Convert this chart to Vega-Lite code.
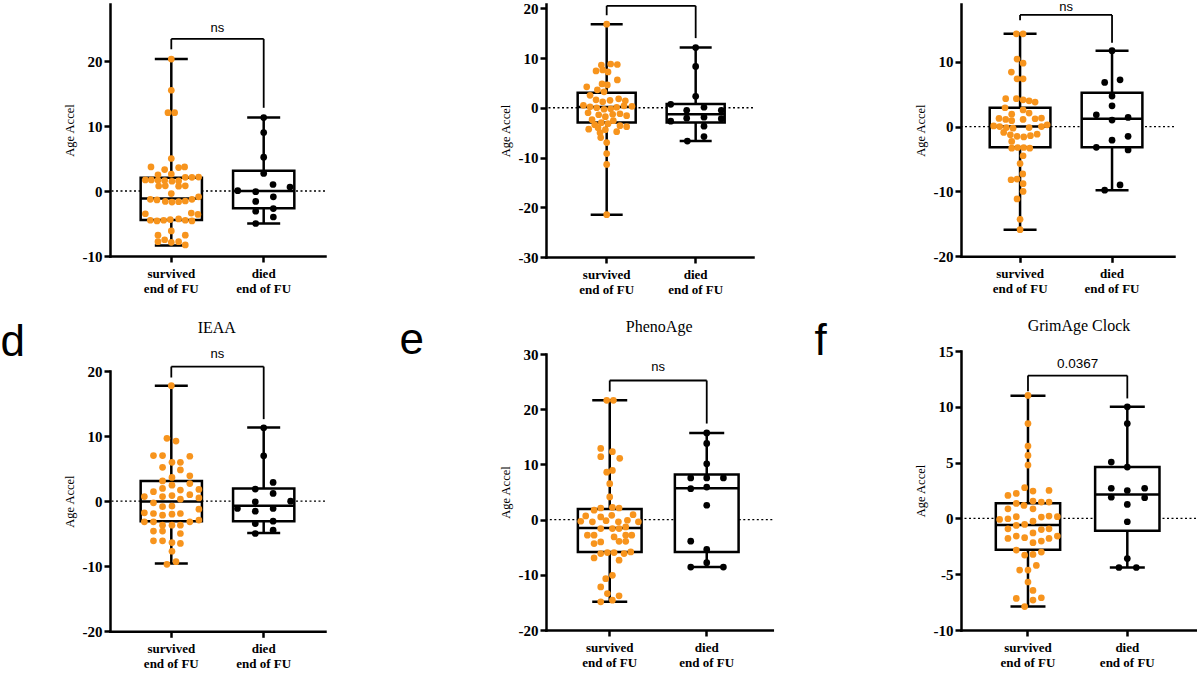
{
"$schema": "https://vega.github.io/schema/vega-lite/v6.json",
"padding": 0,
"background": "white",
"spacing": 0,
"datasets": {
"box": [
{"p":"a","g":"survived","mn":-8.4,"q1":-4.45,"md":-1.15,"q3":2.05,"mx":20.3},
{"p":"a","g":"died","mn":-5.0,"q1":-2.65,"md":0.0,"q3":3.1,"mx":11.3},
{"p":"b","g":"survived","mn":-21.5,"q1":-2.95,"md":0.15,"q3":3.0,"mx":16.8},
{"p":"b","g":"died","mn":-6.7,"q1":-2.95,"md":-1.3,"q3":0.75,"mx":12.1},
{"p":"c","g":"survived","mn":-15.9,"q1":-3.2,"md":0.0,"q3":2.9,"mx":14.3},
{"p":"c","g":"died","mn":-9.8,"q1":-3.2,"md":1.2,"q3":5.2,"mx":11.7},
{"p":"d","g":"survived","mn":-9.6,"q1":-3.1,"md":-0.05,"q3":3.1,"mx":17.75},
{"p":"d","g":"died","mn":-4.9,"q1":-3.1,"md":-0.7,"q3":1.95,"mx":11.3},
{"p":"e","g":"survived","mn":-14.9,"q1":-5.85,"md":-1.5,"q3":1.9,"mx":21.6},
{"p":"e","g":"died","mn":-8.6,"q1":-5.85,"md":5.7,"q3":8.15,"mx":15.7},
{"p":"f","g":"survived","mn":-7.9,"q1":-2.8,"md":-0.6,"q3":1.35,"mx":11.0},
{"p":"f","g":"died","mn":-4.4,"q1":-1.1,"md":2.15,"q3":4.6,"mx":10.0}
],
"legs": [
{"p":"a","g":"survived","lo":21.8,"hi":23.4},{"p":"a","g":"died","lo":12.8,"hi":23.4},
{"p":"b","g":"survived","lo":18.6,"hi":20.5},{"p":"b","g":"died","lo":14.0,"hi":20.5},
{"p":"c","g":"survived","lo":16.4,"hi":17.2},{"p":"c","g":"died","lo":12.9,"hi":17.2},
{"p":"d","g":"survived","lo":19.0,"hi":20.68},{"p":"d","g":"died","lo":12.6,"hi":20.68},
{"p":"e","g":"survived","lo":23.2,"hi":25.2},{"p":"e","g":"died","lo":17.4,"hi":25.2},
{"p":"f","g":"survived","lo":11.4,"hi":12.8},{"p":"f","g":"died","lo":10.75,"hi":12.8}
],
"brk": [
{"p":"a","g":"survived","g2":"died","hi":23.4},
{"p":"b","g":"survived","g2":"died","hi":20.5},
{"p":"c","g":"survived","g2":"died","hi":17.2},
{"p":"d","g":"survived","g2":"died","hi":20.68},
{"p":"e","g":"survived","g2":"died","hi":25.2},
{"p":"f","g":"survived","g2":"died","hi":12.8}
],
"lab": [
{"p":"a","g":"survived","t":"ns","ly":24.5},
{"p":"c","g":"survived","t":"ns","ly":17.81},
{"p":"d","g":"survived","t":"ns","ly":21.95},
{"p":"e","g":"survived","t":"ns","ly":26.9},
{"p":"f","g":"survived","t":"0.0367","ly":13.5}
],
"pts": [
{"p":"a","g":"survived","v":20.3,"o":0},{"p":"a","g":"survived","v":15.5,"o":0},{"p":"a","g":"survived","v":12.05,"o":-0.5},{"p":"a","g":"survived","v":12.05,"o":0.5},{"p":"a","g":"survived","v":5.0,"o":0},
{"p":"a","g":"survived","v":3.7,"o":-3.05},{"p":"a","g":"survived","v":3.3,"o":-1.0},{"p":"a","g":"survived","v":3.6,"o":1.1},{"p":"a","g":"survived","v":3.7,"o":2.0},
{"p":"a","g":"survived","v":2.5,"o":-2.0},{"p":"a","g":"survived","v":2.6,"o":0},{"p":"a","g":"survived","v":2.1,"o":2.1},{"p":"a","g":"survived","v":2.1,"o":3.1},{"p":"a","g":"survived","v":2.15,"o":4.1},
{"p":"a","g":"survived","v":1.7,"o":-3.9},{"p":"a","g":"survived","v":1.7,"o":-3.0},{"p":"a","g":"survived","v":1.65,"o":-2.0},{"p":"a","g":"survived","v":1.6,"o":-1.0},{"p":"a","g":"survived","v":1.5,"o":0.1},{"p":"a","g":"survived","v":1.55,"o":1.1},
{"p":"a","g":"survived","v":0.77,"o":-1.9},{"p":"a","g":"survived","v":0.8,"o":-0.9},{"p":"a","g":"survived","v":0.75,"o":1.1},{"p":"a","g":"survived","v":0.8,"o":2.1},
{"p":"a","g":"survived","v":-0.4,"o":0},
{"p":"a","g":"survived","v":-1.28,"o":-3.15},{"p":"a","g":"survived","v":-1.38,"o":-2.15},{"p":"a","g":"survived","v":-1.6,"o":-0.9},{"p":"a","g":"survived","v":-1.7,"o":0.1},{"p":"a","g":"survived","v":-1.64,"o":1.1},{"p":"a","g":"survived","v":-1.54,"o":2.1},{"p":"a","g":"survived","v":-1.28,"o":3.1},{"p":"a","g":"survived","v":-0.9,"o":4.1},
{"p":"a","g":"survived","v":-3.5,"o":-3.9},{"p":"a","g":"survived","v":-3.4,"o":3.0},{"p":"a","g":"survived","v":-3.6,"o":4.0},
{"p":"a","g":"survived","v":-4.5,"o":-3.15},{"p":"a","g":"survived","v":-4.6,"o":-2.15},{"p":"a","g":"survived","v":-4.5,"o":-1.15},{"p":"a","g":"survived","v":-4.4,"o":-0.15},{"p":"a","g":"survived","v":-4.3,"o":1.1},{"p":"a","g":"survived","v":-4.5,"o":2.1},{"p":"a","g":"survived","v":-4.6,"o":3.1},
{"p":"a","g":"survived","v":-6.15,"o":0},{"p":"a","g":"survived","v":-6.8,"o":-2.0},{"p":"a","g":"survived","v":-6.8,"o":2.1},
{"p":"a","g":"survived","v":-7.8,"o":-2.0},{"p":"a","g":"survived","v":-7.5,"o":-1.0},{"p":"a","g":"survived","v":-7.9,"o":0},{"p":"a","g":"survived","v":-7.8,"o":1.1},{"p":"a","g":"survived","v":-8.3,"o":2.1},
{"p":"a","g":"died","v":11.3,"o":0},{"p":"a","g":"died","v":9.0,"o":0},{"p":"a","g":"died","v":5.2,"o":0},{"p":"a","g":"died","v":2.7,"o":0},{"p":"a","g":"died","v":1.0,"o":1.4},{"p":"a","g":"died","v":0.6,"o":3.95},{"p":"a","g":"died","v":0.05,"o":-3.9},{"p":"a","g":"died","v":-0.1,"o":-1.2},{"p":"a","g":"died","v":-0.9,"o":1.45},{"p":"a","g":"died","v":-1.6,"o":-1.2},{"p":"a","g":"died","v":-2.7,"o":1.45},{"p":"a","g":"died","v":-3.1,"o":-1.2},{"p":"a","g":"died","v":-4.0,"o":1.45},{"p":"a","g":"died","v":-5.0,"o":-1.2},

{"p":"b","g":"survived","v":16.8,"o":0},{"p":"b","g":"survived","v":8.6,"o":-0.8},{"p":"b","g":"survived","v":8.8,"o":0.6},{"p":"b","g":"survived","v":8.7,"o":1.6},{"p":"b","g":"survived","v":7.4,"o":-1.6},{"p":"b","g":"survived","v":7.6,"o":-0.6},{"p":"b","g":"survived","v":7.2,"o":0.2},{"p":"b","g":"survived","v":5.6,"o":1.6},{"p":"b","g":"survived","v":4.8,"o":-0.7},{"p":"b","g":"survived","v":4.6,"o":0.1},{"p":"b","g":"survived","v":4.2,"o":-3.0},{"p":"b","g":"survived","v":3.6,"o":-1.4},{"p":"b","g":"survived","v":3.2,"o":-0.4},
{"p":"b","g":"survived","v":2.5,"o":-2.5},{"p":"b","g":"survived","v":1.8,"o":1.8},{"p":"b","g":"survived","v":1.6,"o":-1.6},{"p":"b","g":"survived","v":1.5,"o":0.5},{"p":"b","g":"survived","v":1.4,"o":2.8},{"p":"b","g":"survived","v":1.2,"o":-0.6},
{"p":"b","g":"survived","v":0.5,"o":-3.5},{"p":"b","g":"survived","v":0.3,"o":3.8},{"p":"b","g":"survived","v":0.2,"o":-2.5},{"p":"b","g":"survived","v":0.1,"o":1.5},{"p":"b","g":"survived","v":0.0,"o":-1.5},{"p":"b","g":"survived","v":-0.2,"o":0.6},{"p":"b","g":"survived","v":0.4,"o":2.6},{"p":"b","g":"survived","v":-0.3,"o":-0.4},
{"p":"b","g":"survived","v":-1.0,"o":-2.8},{"p":"b","g":"survived","v":-1.2,"o":2.0},{"p":"b","g":"survived","v":-1.4,"o":-1.2},{"p":"b","g":"survived","v":-1.3,"o":0.9},{"p":"b","g":"survived","v":-1.6,"o":3.0},{"p":"b","g":"survived","v":-1.8,"o":-0.2},
{"p":"b","g":"survived","v":-2.4,"o":-2.2},{"p":"b","g":"survived","v":-2.6,"o":1.0},{"p":"b","g":"survived","v":-3.0,"o":-0.8},{"p":"b","g":"survived","v":-3.2,"o":0.2},{"p":"b","g":"survived","v":-3.4,"o":-1.8},{"p":"b","g":"survived","v":-3.6,"o":2.0},
{"p":"b","g":"survived","v":-4.0,"o":-1.3},{"p":"b","g":"survived","v":-4.3,"o":-2.7},{"p":"b","g":"survived","v":-4.4,"o":-0.2},{"p":"b","g":"survived","v":-4.8,"o":1.5},{"p":"b","g":"survived","v":-5.0,"o":-1.0},{"p":"b","g":"survived","v":-3.8,"o":3.0},
{"p":"b","g":"survived","v":-6.0,"o":-0.9},{"p":"b","g":"survived","v":-7.0,"o":0},{"p":"b","g":"survived","v":-9.2,"o":0},{"p":"b","g":"survived","v":-11.4,"o":0},{"p":"b","g":"survived","v":-21.5,"o":0},
{"p":"b","g":"died","v":12.1,"o":0},{"p":"b","g":"died","v":8.3,"o":0},{"p":"b","g":"died","v":2.3,"o":0},{"p":"b","g":"died","v":0.7,"o":-3.75},{"p":"b","g":"died","v":-2.7,"o":-3.75},{"p":"b","g":"died","v":-0.5,"o":-1.35},{"p":"b","g":"died","v":-2.1,"o":-1.35},{"p":"b","g":"died","v":0.1,"o":1.25},{"p":"b","g":"died","v":-1.9,"o":1.25},{"p":"b","g":"died","v":-0.5,"o":3.85},{"p":"b","g":"died","v":-2.2,"o":3.85},{"p":"b","g":"died","v":-3.7,"o":1.25},{"p":"b","g":"died","v":-5.8,"o":1.25},{"p":"b","g":"died","v":-6.7,"o":-1.25},

{"p":"c","g":"survived","v":14.3,"o":-0.55},{"p":"c","g":"survived","v":14.3,"o":0.45},{"p":"c","g":"survived","v":10.4,"o":-0.45},{"p":"c","g":"survived","v":9.77,"o":0.45},{"p":"c","g":"survived","v":8.4,"o":-1.3},{"p":"c","g":"survived","v":7.35,"o":-0.45},{"p":"c","g":"survived","v":7.35,"o":0.45},
{"p":"c","g":"survived","v":4.3,"o":-2.15},{"p":"c","g":"survived","v":4.3,"o":-0.55},{"p":"c","g":"survived","v":4.12,"o":0.45},{"p":"c","g":"survived","v":3.97,"o":1.35},{"p":"c","g":"survived","v":3.77,"o":2.25},
{"p":"c","g":"survived","v":2.9,"o":-2.25},{"p":"c","g":"survived","v":2.57,"o":0.45},{"p":"c","g":"survived","v":1.9,"o":-1.25},{"p":"c","g":"survived","v":2.07,"o":1.35},
{"p":"c","g":"survived","v":1.25,"o":-3.15},{"p":"c","g":"survived","v":1.1,"o":-2.15},{"p":"c","g":"survived","v":0.9,"o":-1.25},{"p":"c","g":"survived","v":1.1,"o":0.45},{"p":"c","g":"survived","v":1.2,"o":2.25},{"p":"c","g":"survived","v":1.3,"o":3.2},
{"p":"c","g":"survived","v":0.1,"o":-3.95},{"p":"c","g":"survived","v":0.0,"o":-3.05},{"p":"c","g":"survived","v":-0.15,"o":-2.05},{"p":"c","g":"survived","v":-0.25,"o":-1.05},{"p":"c","g":"survived","v":-0.15,"o":1.35},{"p":"c","g":"survived","v":0.0,"o":3.2},{"p":"c","g":"survived","v":0.26,"o":4.05},
{"p":"c","g":"survived","v":-0.9,"o":-2.45},{"p":"c","g":"survived","v":-1.27,"o":-1.45},{"p":"c","g":"survived","v":-1.5,"o":-0.45},{"p":"c","g":"survived","v":-1.6,"o":0.55},{"p":"c","g":"survived","v":-1.4,"o":1.55},{"p":"c","g":"survived","v":-1.17,"o":2.55},
{"p":"c","g":"survived","v":-2.3,"o":-1.25},
{"p":"c","g":"survived","v":-3.34,"o":-1.25},{"p":"c","g":"survived","v":-3.23,"o":-0.35},{"p":"c","g":"survived","v":-3.23,"o":0.55},{"p":"c","g":"survived","v":-3.34,"o":1.45},
{"p":"c","g":"survived","v":-4.5,"o":0.45},{"p":"c","g":"survived","v":-5.7,"o":0},
{"p":"c","g":"survived","v":-8.2,"o":-1.35},{"p":"c","g":"survived","v":-8.1,"o":-0.45},{"p":"c","g":"survived","v":-7.3,"o":0.4},{"p":"c","g":"survived","v":-8.8,"o":0.45},
{"p":"c","g":"survived","v":-10.0,"o":0.45},{"p":"c","g":"survived","v":-11.15,"o":-0.45},{"p":"c","g":"survived","v":-14.3,"o":0},{"p":"c","g":"survived","v":-15.9,"o":0},
{"p":"c","g":"died","v":11.7,"o":0},{"p":"c","g":"died","v":6.8,"o":-1.1},{"p":"c","g":"died","v":7.2,"o":1.2},{"p":"c","g":"died","v":4.7,"o":0},{"p":"c","g":"died","v":3.2,"o":0},{"p":"c","g":"died","v":1.8,"o":-2.35},{"p":"c","g":"died","v":1.4,"o":2.4},{"p":"c","g":"died","v":1.0,"o":0},{"p":"c","g":"died","v":-1.5,"o":2.4},{"p":"c","g":"died","v":-2.1,"o":0},{"p":"c","g":"died","v":-3.2,"o":-2.35},{"p":"c","g":"died","v":-3.6,"o":2.4},{"p":"c","g":"died","v":-9.0,"o":1.2},{"p":"c","g":"died","v":-9.8,"o":-1.1},

{"p":"d","g":"survived","v":17.75,"o":0},{"p":"d","g":"survived","v":9.65,"o":-0.65},{"p":"d","g":"survived","v":9.23,"o":0.7},{"p":"d","g":"survived","v":7.0,"o":-2.65},{"p":"d","g":"survived","v":7.0,"o":-1.3},{"p":"d","g":"survived","v":6.9,"o":2.75},{"p":"d","g":"survived","v":5.96,"o":0.1},{"p":"d","g":"survived","v":5.96,"o":1.35},{"p":"d","g":"survived","v":5.2,"o":-1.3},{"p":"d","g":"survived","v":4.8,"o":1.35},{"p":"d","g":"survived","v":3.9,"o":2.75},{"p":"d","g":"survived","v":3.65,"o":0.1},{"p":"d","g":"survived","v":3.1,"o":-1.3},{"p":"d","g":"survived","v":2.7,"o":2.75},
{"p":"d","g":"survived","v":1.45,"o":-2.65},{"p":"d","g":"survived","v":1.95,"o":-1.3},{"p":"d","g":"survived","v":2.45,"o":0.1},{"p":"d","g":"survived","v":1.7,"o":1.35},{"p":"d","g":"survived","v":1.0,"o":2.75},{"p":"d","g":"survived","v":1.8,"o":4.1},
{"p":"d","g":"survived","v":0.7,"o":-4.0},{"p":"d","g":"survived","v":0.7,"o":-1.3},{"p":"d","g":"survived","v":0.85,"o":0.1},{"p":"d","g":"survived","v":0.3,"o":1.35},{"p":"d","g":"survived","v":0.5,"o":4.1},
{"p":"d","g":"survived","v":-0.25,"o":-2.65},{"p":"d","g":"survived","v":-0.85,"o":-1.3},{"p":"d","g":"survived","v":-0.75,"o":0.1},{"p":"d","g":"survived","v":-1.23,"o":4.1},
{"p":"d","g":"survived","v":-1.8,"o":-4.0},{"p":"d","g":"survived","v":-1.9,"o":-2.65},{"p":"d","g":"survived","v":-2.15,"o":-1.3},{"p":"d","g":"survived","v":-2.0,"o":0.1},{"p":"d","g":"survived","v":-1.9,"o":1.35},
{"p":"d","g":"survived","v":-3.17,"o":-4.0},{"p":"d","g":"survived","v":-3.17,"o":-2.65},{"p":"d","g":"survived","v":-3.17,"o":2.75},{"p":"d","g":"survived","v":-2.9,"o":4.1},
{"p":"d","g":"survived","v":-3.69,"o":-1.3},{"p":"d","g":"survived","v":-3.69,"o":0.1},{"p":"d","g":"survived","v":-3.69,"o":1.35},
{"p":"d","g":"survived","v":-4.6,"o":-2.65},{"p":"d","g":"survived","v":-4.6,"o":-1.3},{"p":"d","g":"survived","v":-4.97,"o":1.35},
{"p":"d","g":"survived","v":-6.1,"o":-2.65},{"p":"d","g":"survived","v":-6.1,"o":-1.3},{"p":"d","g":"survived","v":-6.36,"o":0.1},{"p":"d","g":"survived","v":-6.5,"o":1.35},
{"p":"d","g":"survived","v":-7.7,"o":0.1},{"p":"d","g":"survived","v":-9.7,"o":-0.65},{"p":"d","g":"survived","v":-9.3,"o":0.7},
{"p":"d","g":"died","v":11.28,"o":0},{"p":"d","g":"died","v":6.97,"o":0},{"p":"d","g":"died","v":2.87,"o":1.4},{"p":"d","g":"died","v":1.85,"o":-1.25},{"p":"d","g":"died","v":1.18,"o":1.4},{"p":"d","g":"died","v":0.0,"o":4.0},{"p":"d","g":"died","v":-0.1,"o":-1.25},{"p":"d","g":"died","v":-1.13,"o":-3.9},{"p":"d","g":"died","v":-1.54,"o":-1.25},{"p":"d","g":"died","v":-1.13,"o":1.4},{"p":"d","g":"died","v":-3.44,"o":-1.25},{"p":"d","g":"died","v":-3.08,"o":1.4},{"p":"d","g":"died","v":-4.46,"o":1.4},{"p":"d","g":"died","v":-4.97,"o":-1.25},

{"p":"e","g":"survived","v":21.6,"o":-0.45},{"p":"e","g":"survived","v":21.6,"o":0.55},{"p":"e","g":"survived","v":12.9,"o":-1.35},{"p":"e","g":"survived","v":12.3,"o":0.4},{"p":"e","g":"survived","v":11.4,"o":-1.35},{"p":"e","g":"survived","v":11.1,"o":1.5},{"p":"e","g":"survived","v":8.6,"o":-0.45},{"p":"e","g":"survived","v":8.9,"o":0.4},{"p":"e","g":"survived","v":6.5,"o":0},{"p":"e","g":"survived","v":4.1,"o":0},
{"p":"e","g":"survived","v":1.7,"o":-2.35},{"p":"e","g":"survived","v":2.1,"o":-1.35},{"p":"e","g":"survived","v":2.2,"o":0.4},{"p":"e","g":"survived","v":2.1,"o":1.4},
{"p":"e","g":"survived","v":0.66,"o":-3.6},{"p":"e","g":"survived","v":0.48,"o":-1.35},{"p":"e","g":"survived","v":0.78,"o":0.3},{"p":"e","g":"survived","v":0.9,"o":3.5},{"p":"e","g":"survived","v":-0.3,"o":-4.35},{"p":"e","g":"survived","v":-0.4,"o":-2.6},{"p":"e","g":"survived","v":-0.2,"o":-0.55},{"p":"e","g":"survived","v":-0.4,"o":1.3},{"p":"e","g":"survived","v":-0.12,"o":2.65},{"p":"e","g":"survived","v":-0.4,"o":4.3},
{"p":"e","g":"survived","v":-1.63,"o":-1.35},{"p":"e","g":"survived","v":-1.63,"o":0.4},{"p":"e","g":"survived","v":-1.63,"o":1.4},{"p":"e","g":"survived","v":-1.33,"o":2.4},
{"p":"e","g":"survived","v":-2.83,"o":-3.35},{"p":"e","g":"survived","v":-2.83,"o":-2.35},{"p":"e","g":"survived","v":-3.13,"o":0.65},{"p":"e","g":"survived","v":-2.83,"o":2.4},{"p":"e","g":"survived","v":-2.83,"o":3.3},
{"p":"e","g":"survived","v":-4.35,"o":-2.35},{"p":"e","g":"survived","v":-4.05,"o":-1.35},{"p":"e","g":"survived","v":-3.93,"o":1.4},{"p":"e","g":"survived","v":-3.93,"o":2.4},
{"p":"e","g":"survived","v":-6.94,"o":-2.35},{"p":"e","g":"survived","v":-6.15,"o":-1.35},{"p":"e","g":"survived","v":-5.97,"o":-0.35},{"p":"e","g":"survived","v":-5.97,"o":0.65},{"p":"e","g":"survived","v":-6.15,"o":2.15},{"p":"e","g":"survived","v":-5.85,"o":3.15},{"p":"e","g":"survived","v":-7.36,"o":1.4},
{"p":"e","g":"survived","v":-10.7,"o":-0.6},{"p":"e","g":"survived","v":-10.1,"o":0.4},{"p":"e","g":"survived","v":-12.2,"o":-1.35},{"p":"e","g":"survived","v":-13.4,"o":-0.35},{"p":"e","g":"survived","v":-13.8,"o":1.4},{"p":"e","g":"survived","v":-14.6,"o":0.4},{"p":"e","g":"survived","v":-14.9,"o":-1.35},
{"p":"e","g":"died","v":15.7,"o":0},{"p":"e","g":"died","v":13.8,"o":0},{"p":"e","g":"died","v":10.1,"o":0},{"p":"e","g":"died","v":7.55,"o":-2.4},{"p":"e","g":"died","v":7.55,"o":0},{"p":"e","g":"died","v":7.55,"o":2.5},{"p":"e","g":"died","v":5.6,"o":-2.4},{"p":"e","g":"died","v":5.9,"o":0},{"p":"e","g":"died","v":2.6,"o":0},{"p":"e","g":"died","v":-3.9,"o":-2.4},{"p":"e","g":"died","v":-5.4,"o":0},{"p":"e","g":"died","v":-7.8,"o":0},{"p":"e","g":"died","v":-8.6,"o":-2.4},{"p":"e","g":"died","v":-8.6,"o":2.5},

{"p":"f","g":"survived","v":11.02,"o":0},{"p":"f","g":"survived","v":8.5,"o":0},{"p":"f","g":"survived","v":6.48,"o":0},{"p":"f","g":"survived","v":5.64,"o":0},{"p":"f","g":"survived","v":4.78,"o":0},
{"p":"f","g":"survived","v":2.06,"o":-3.0},{"p":"f","g":"survived","v":2.24,"o":-1.75},{"p":"f","g":"survived","v":2.75,"o":-0.5},{"p":"f","g":"survived","v":2.45,"o":0.75},{"p":"f","g":"survived","v":2.51,"o":3.15},
{"p":"f","g":"survived","v":1.34,"o":-1.75},{"p":"f","g":"survived","v":1.16,"o":-0.6},{"p":"f","g":"survived","v":1.55,"o":0.75},{"p":"f","g":"survived","v":1.46,"o":2.0},{"p":"f","g":"survived","v":1.46,"o":3.15},
{"p":"f","g":"survived","v":0.86,"o":-3.0},{"p":"f","g":"survived","v":0.86,"o":0.75},
{"p":"f","g":"survived","v":-0.09,"o":-4.25},{"p":"f","g":"survived","v":-0.03,"o":-3.0},{"p":"f","g":"survived","v":0.15,"o":-1.75},{"p":"f","g":"survived","v":0.12,"o":2.0},{"p":"f","g":"survived","v":0.21,"o":3.15},{"p":"f","g":"survived","v":0.15,"o":4.4},
{"p":"f","g":"survived","v":-0.25,"o":0.75},{"p":"f","g":"survived","v":-0.63,"o":-1.75},{"p":"f","g":"survived","v":-0.54,"o":-0.5},
{"p":"f","g":"survived","v":-0.93,"o":-3.0},{"p":"f","g":"survived","v":-1.3,"o":0.75},{"p":"f","g":"survived","v":-1.0,"o":2.0},{"p":"f","g":"survived","v":-0.93,"o":3.15},
{"p":"f","g":"survived","v":-1.79,"o":-3.0},{"p":"f","g":"survived","v":-1.58,"o":-1.75},{"p":"f","g":"survived","v":-1.73,"o":-0.5},{"p":"f","g":"survived","v":-2.18,"o":0.75},{"p":"f","g":"survived","v":-2.03,"o":2.0},{"p":"f","g":"survived","v":-1.79,"o":3.15},{"p":"f","g":"survived","v":-1.58,"o":4.4},
{"p":"f","g":"survived","v":-2.84,"o":-1.75},{"p":"f","g":"survived","v":-3.29,"o":-0.5},{"p":"f","g":"survived","v":-3.23,"o":0.75},{"p":"f","g":"survived","v":-3.02,"o":2.0},
{"p":"f","g":"survived","v":-4.63,"o":-1.25},{"p":"f","g":"survived","v":-4.63,"o":0},{"p":"f","g":"survived","v":-4.21,"o":1.25},
{"p":"f","g":"survived","v":-5.7,"o":0},{"p":"f","g":"survived","v":-6.45,"o":0.75},
{"p":"f","g":"survived","v":-7.17,"o":-1.75},{"p":"f","g":"survived","v":-7.32,"o":0.75},{"p":"f","g":"survived","v":-7.11,"o":2.0},{"p":"f","g":"survived","v":-7.9,"o":-0.5},
{"p":"f","g":"died","v":10.0,"o":0},{"p":"f","g":"died","v":8.5,"o":0},{"p":"f","g":"died","v":5.05,"o":-2.4},{"p":"f","g":"died","v":4.6,"o":0},{"p":"f","g":"died","v":2.7,"o":-2.4},{"p":"f","g":"died","v":2.5,"o":0},{"p":"f","g":"died","v":2.7,"o":2.6},{"p":"f","g":"died","v":1.9,"o":-2.4},{"p":"f","g":"died","v":1.85,"o":2.6},{"p":"f","g":"died","v":1.25,"o":0},{"p":"f","g":"died","v":-0.3,"o":0},{"p":"f","g":"died","v":-3.6,"o":0},{"p":"f","g":"died","v":-4.4,"o":-1.25},{"p":"f","g":"died","v":-4.4,"o":1.35}
]
},
"hconcat": [
{"spacing": 17, "vconcat": [
{"width":215,"height":252,"resolve":{"axis":{"x":"independent","y":"independent"},"scale":{"xOffset":"independent"}},"layer":[
 {"data":{"values":[{}]},"mark":{"type":"rule","strokeDash":[2,2.5],"strokeWidth":1.3,"color":"black"},"encoding":{"y":{"datum":0,"type":"quantitative","scale":{"domain":[-10,28.77],"nice":false,"zero":false},"axis":null}}},
 {"encoding":{"x":{"field":"g","type":"nominal","scale":{"domain":["survived","died"],"paddingInner":0.337,"paddingOuter":0.332},"axis":{"orient":"bottom","labelExpr":"datum.value == 'survived' ? ['survived', 'end of FU'] : ['died', 'end of FU']"},"title":null}},
  "layer":[
  {"data":{"name":"box"},"transform":[{"filter":"datum.p=='a'"}],"mark":{"type":"rule","strokeWidth":2.5,"color":"black"},"encoding":{"y":{"field":"mn","type":"quantitative","scale":{"domain":[-10,28.77],"nice":false,"zero":false},"axis":{"orient":"left","values":[-10,0,10,20],"labelExpr":"datum.value < 0 ? '-' + abs(datum.value) : '' + datum.value"},"title":"Age Accel"},"y2":{"field":"mx"}}},
  {"data":{"name":"box"},"transform":[{"filter":"datum.p=='a'"}],"mark":{"type":"bar","fill":"white","stroke":"black","strokeWidth":2.5},"encoding":{"y":{"field":"q1","type":"quantitative","scale":{"domain":[-10,28.77],"nice":false,"zero":false},"title":"Age Accel"},"y2":{"field":"q3"}}},
  {"data":{"name":"box"},"transform":[{"filter":"datum.p=='a'"}],"mark":{"type":"tick","size":61,"thickness":2.5,"color":"black","opacity":1},"encoding":{"y":{"field":"md","type":"quantitative","scale":{"domain":[-10,28.77],"nice":false,"zero":false},"title":"Age Accel"}}},
  {"data":{"name":"box"},"transform":[{"filter":"datum.p=='a'"}],"mark":{"type":"tick","size":33,"thickness":2.5,"color":"black","opacity":1},"encoding":{"y":{"field":"mn","type":"quantitative","scale":{"domain":[-10,28.77],"nice":false,"zero":false},"title":"Age Accel"}}},
  {"data":{"name":"box"},"transform":[{"filter":"datum.p=='a'"}],"mark":{"type":"tick","size":33,"thickness":2.5,"color":"black","opacity":1},"encoding":{"y":{"field":"mx","type":"quantitative","scale":{"domain":[-10,28.77],"nice":false,"zero":false},"title":"Age Accel"}}},
  {"data":{"name":"brk"},"transform":[{"filter":"datum.p=='a'"}],"mark":{"type":"rule","strokeWidth":1.8,"color":"black"},"encoding":{"x2":{"field":"g2"},"y":{"field":"hi","type":"quantitative","scale":{"domain":[-10,28.77],"nice":false,"zero":false},"title":"Age Accel"}}},
  {"data":{"name":"lab"},"transform":[{"filter":"datum.p=='a'"}],"mark":{"type":"text","dx":46,"font":"Liberation Sans","fontSize":13,"baseline":"alphabetic","align":"center","color":"black"},"encoding":{"y":{"field":"ly","type":"quantitative","scale":{"domain":[-10,28.77],"nice":false,"zero":false},"title":"Age Accel"},"text":{"field":"t"}}}
 ]},
 {"data":{"name":"pts"},"transform":[{"filter":"datum.p=='a'"}],"mark":{"type":"circle","size":45,"opacity":1},"encoding":{"x":{"field":"g","type":"nominal","scale":{"domain":["survived","died"],"paddingInner":0.337,"paddingOuter":0.332},"axis":null},"xOffset":{"field":"o","type":"quantitative","scale":{"domain":[-4.6,4.6]}},"y":{"field":"v","type":"quantitative","scale":{"domain":[-10,28.77],"nice":false,"zero":false},"axis":null},"color":{"field":"g","type":"nominal","scale":{"domain":["survived","died"],"range":["#F7941D","#000000"]},"legend":null}}},
 {"data":{"name":"legs"},"transform":[{"filter":"datum.p=='a'"}],"mark":{"type":"rule","strokeWidth":1.8,"color":"black"},"encoding":{
   "x":{"field":"g","type":"nominal","scale":{"domain":["survived","died"],"paddingInner":0.337,"paddingOuter":0.332},"axis":{"orient":"top","domain":false,"ticks":false,"labels":false,"minExtent":4,"maxExtent":4,"title":null}},
   "y":{"field":"lo","type":"quantitative","scale":{"domain":[-10,28.77],"nice":false,"zero":false},"axis":{"orient":"left","domain":false,"ticks":false,"labels":false,"minExtent":110,"maxExtent":110,"title":null}},
   "y2":{"field":"hi"}}}
]},
{"width":215,"height":260.3,"resolve":{"axis":{"x":"independent","y":"independent"},"scale":{"xOffset":"independent"}},"layer":[
 {"data":{"values":[{}]},"mark":{"type":"rule","strokeDash":[2,2.5],"strokeWidth":1.3,"color":"black"},"encoding":{"y":{"datum":0,"type":"quantitative","scale":{"domain":[-20,20],"nice":false,"zero":false},"axis":null}}},
 {"encoding":{"x":{"field":"g","type":"nominal","scale":{"domain":["survived","died"],"paddingInner":0.337,"paddingOuter":0.332},"axis":{"orient":"bottom","labelExpr":"datum.value == 'survived' ? ['survived', 'end of FU'] : ['died', 'end of FU']"},"title":null}},
  "layer":[
  {"data":{"name":"box"},"transform":[{"filter":"datum.p=='d'"}],"mark":{"type":"rule","strokeWidth":2.5,"color":"black"},"encoding":{"y":{"field":"mn","type":"quantitative","scale":{"domain":[-20,20],"nice":false,"zero":false},"axis":{"orient":"left","values":[-20,-10,0,10,20],"labelExpr":"datum.value < 0 ? '-' + abs(datum.value) : '' + datum.value"},"title":"Age Accel"},"y2":{"field":"mx"}}},
  {"data":{"name":"box"},"transform":[{"filter":"datum.p=='d'"}],"mark":{"type":"bar","fill":"white","stroke":"black","strokeWidth":2.5},"encoding":{"y":{"field":"q1","type":"quantitative","scale":{"domain":[-20,20],"nice":false,"zero":false},"title":"Age Accel"},"y2":{"field":"q3"}}},
  {"data":{"name":"box"},"transform":[{"filter":"datum.p=='d'"}],"mark":{"type":"tick","size":61,"thickness":2.5,"color":"black","opacity":1},"encoding":{"y":{"field":"md","type":"quantitative","scale":{"domain":[-20,20],"nice":false,"zero":false},"title":"Age Accel"}}},
  {"data":{"name":"box"},"transform":[{"filter":"datum.p=='d'"}],"mark":{"type":"tick","size":33,"thickness":2.5,"color":"black","opacity":1},"encoding":{"y":{"field":"mn","type":"quantitative","scale":{"domain":[-20,20],"nice":false,"zero":false},"title":"Age Accel"}}},
  {"data":{"name":"box"},"transform":[{"filter":"datum.p=='d'"}],"mark":{"type":"tick","size":33,"thickness":2.5,"color":"black","opacity":1},"encoding":{"y":{"field":"mx","type":"quantitative","scale":{"domain":[-20,20],"nice":false,"zero":false},"title":"Age Accel"}}},
  {"data":{"name":"brk"},"transform":[{"filter":"datum.p=='d'"}],"mark":{"type":"rule","strokeWidth":1.8,"color":"black"},"encoding":{"x2":{"field":"g2"},"y":{"field":"hi","type":"quantitative","scale":{"domain":[-20,20],"nice":false,"zero":false},"title":"Age Accel"}}},
  {"data":{"name":"lab"},"transform":[{"filter":"datum.p=='d'"}],"mark":{"type":"text","dx":46,"font":"Liberation Sans","fontSize":13,"baseline":"alphabetic","align":"center","color":"black"},"encoding":{"y":{"field":"ly","type":"quantitative","scale":{"domain":[-20,20],"nice":false,"zero":false},"title":"Age Accel"},"text":{"field":"t"}}}
 ]},
 {"data":{"name":"pts"},"transform":[{"filter":"datum.p=='d'"}],"mark":{"type":"circle","size":45,"opacity":1},"encoding":{"x":{"field":"g","type":"nominal","scale":{"domain":["survived","died"],"paddingInner":0.337,"paddingOuter":0.332},"axis":null},"xOffset":{"field":"o","type":"quantitative","scale":{"domain":[-4.55,4.55]}},"y":{"field":"v","type":"quantitative","scale":{"domain":[-20,20],"nice":false,"zero":false},"axis":null},"color":{"field":"g","type":"nominal","scale":{"domain":["survived","died"],"range":["#F7941D","#000000"]},"legend":null}}},
 {"data":{"name":"legs"},"transform":[{"filter":"datum.p=='d'"}],"mark":{"type":"rule","strokeWidth":1.8,"color":"black"},"encoding":{
   "x":{"field":"g","type":"nominal","scale":{"domain":["survived","died"],"paddingInner":0.337,"paddingOuter":0.332},"axis":{"orient":"top","domain":false,"ticks":false,"labels":false,"minExtent":58.7,"maxExtent":58.7,"title":"IEAA","titleFont":"Liberation Serif","titleFontSize":16,"titleFontWeight":"normal","titleAngle":0,"titleAlign":"center","titleBaseline":"alphabetic","titleX":106.3,"titleY":-38.7}},
   "y":{"field":"lo","type":"quantitative","scale":{"domain":[-20,20],"nice":false,"zero":false},"axis":{"orient":"left","domain":false,"ticks":false,"labels":false,"minExtent":110,"maxExtent":110,"title":"d","titleFont":"Liberation Sans","titleFontSize":44,"titleFontWeight":"normal","titleAngle":0,"titleAlign":"left","titleBaseline":"alphabetic","titleX":-110,"titleY":-15.7}},
   "y2":{"field":"hi"}}}
]}
]},
{"spacing": 17, "vconcat": [
{"width":207,"height":253,"resolve":{"axis":{"x":"independent","y":"independent"},"scale":{"xOffset":"independent"}},"layer":[
 {"data":{"values":[{}]},"mark":{"type":"rule","strokeDash":[2,2.5],"strokeWidth":1.3,"color":"black"},"encoding":{"y":{"datum":0,"type":"quantitative","scale":{"domain":[-30,20.86],"nice":false,"zero":false},"axis":null}}},
 {"encoding":{"x":{"field":"g","type":"nominal","scale":{"domain":["survived","died"],"paddingInner":0.348,"paddingOuter":0.337,"align":0.528},"axis":{"orient":"bottom","labelExpr":"datum.value == 'survived' ? ['survived', 'end of FU'] : ['died', 'end of FU']"},"title":null}},
  "layer":[
  {"data":{"name":"box"},"transform":[{"filter":"datum.p=='b'"}],"mark":{"type":"rule","strokeWidth":2.5,"color":"black"},"encoding":{"y":{"field":"mn","type":"quantitative","scale":{"domain":[-30,20.86],"nice":false,"zero":false},"axis":{"orient":"left","values":[-30,-20,-10,0,10,20],"labelExpr":"datum.value < 0 ? '-' + abs(datum.value) : '' + datum.value"},"title":"Age Accel"},"y2":{"field":"mx"}}},
  {"data":{"name":"box"},"transform":[{"filter":"datum.p=='b'"}],"mark":{"type":"bar","fill":"white","stroke":"black","strokeWidth":2.5},"encoding":{"y":{"field":"q1","type":"quantitative","scale":{"domain":[-30,20.86],"nice":false,"zero":false},"title":"Age Accel"},"y2":{"field":"q3"}}},
  {"data":{"name":"box"},"transform":[{"filter":"datum.p=='b'"}],"mark":{"type":"tick","size":58,"thickness":2.5,"color":"black","opacity":1},"encoding":{"y":{"field":"md","type":"quantitative","scale":{"domain":[-30,20.86],"nice":false,"zero":false},"title":"Age Accel"}}},
  {"data":{"name":"box"},"transform":[{"filter":"datum.p=='b'"}],"mark":{"type":"tick","size":32,"thickness":2.5,"color":"black","opacity":1},"encoding":{"y":{"field":"mn","type":"quantitative","scale":{"domain":[-30,20.86],"nice":false,"zero":false},"title":"Age Accel"}}},
  {"data":{"name":"box"},"transform":[{"filter":"datum.p=='b'"}],"mark":{"type":"tick","size":32,"thickness":2.5,"color":"black","opacity":1},"encoding":{"y":{"field":"mx","type":"quantitative","scale":{"domain":[-30,20.86],"nice":false,"zero":false},"title":"Age Accel"}}},
  {"data":{"name":"brk"},"transform":[{"filter":"datum.p=='b'"}],"mark":{"type":"rule","strokeWidth":1.8,"color":"black"},"encoding":{"x2":{"field":"g2"},"y":{"field":"hi","type":"quantitative","scale":{"domain":[-30,20.86],"nice":false,"zero":false},"title":"Age Accel"}}}
 ]},
 {"data":{"name":"pts"},"transform":[{"filter":"datum.p=='b'"}],"mark":{"type":"circle","size":45,"opacity":1},"encoding":{"x":{"field":"g","type":"nominal","scale":{"domain":["survived","died"],"paddingInner":0.348,"paddingOuter":0.337,"align":0.528},"axis":null},"xOffset":{"field":"o","type":"quantitative","scale":{"domain":[-4.36,4.36]}},"y":{"field":"v","type":"quantitative","scale":{"domain":[-30,20.86],"nice":false,"zero":false},"axis":null},"color":{"field":"g","type":"nominal","scale":{"domain":["survived","died"],"range":["#F7941D","#000000"]},"legend":null}}},
 {"data":{"name":"legs"},"transform":[{"filter":"datum.p=='b'"}],"mark":{"type":"rule","strokeWidth":1.8,"color":"black"},"encoding":{
   "x":{"field":"g","type":"nominal","scale":{"domain":["survived","died"],"paddingInner":0.348,"paddingOuter":0.337,"align":0.528},"axis":{"orient":"top","domain":false,"ticks":false,"labels":false,"minExtent":4,"maxExtent":4,"title":null}},
   "y":{"field":"lo","type":"quantitative","scale":{"domain":[-30,20.86],"nice":false,"zero":false},"axis":{"orient":"left","domain":false,"ticks":false,"labels":false,"minExtent":220,"maxExtent":220,"title":null}},
   "y2":{"field":"hi"}}}
]},
{"width":226.3,"height":276,"resolve":{"axis":{"x":"independent","y":"independent"},"scale":{"xOffset":"independent"}},"layer":[
 {"data":{"values":[{}]},"mark":{"type":"rule","strokeDash":[2,2.5],"strokeWidth":1.3,"color":"black"},"encoding":{"y":{"datum":0,"type":"quantitative","scale":{"domain":[-20,30],"nice":false,"zero":false},"axis":null}}},
 {"encoding":{"x":{"field":"g","type":"nominal","scale":{"domain":["survived","died"],"paddingInner":0.343,"paddingOuter":0.338,"align":0.486},"axis":{"orient":"bottom","labelExpr":"datum.value == 'survived' ? ['survived', 'end of FU'] : ['died', 'end of FU']"},"title":null}},
  "layer":[
  {"data":{"name":"box"},"transform":[{"filter":"datum.p=='e'"}],"mark":{"type":"rule","strokeWidth":2.5,"color":"black"},"encoding":{"y":{"field":"mn","type":"quantitative","scale":{"domain":[-20,30],"nice":false,"zero":false},"axis":{"orient":"left","values":[-20,-10,0,10,20,30],"labelExpr":"datum.value < 0 ? '-' + abs(datum.value) : '' + datum.value"},"title":"Age Accel"},"y2":{"field":"mx"}}},
  {"data":{"name":"box"},"transform":[{"filter":"datum.p=='e'"}],"mark":{"type":"bar","fill":"white","stroke":"black","strokeWidth":2.5},"encoding":{"y":{"field":"q1","type":"quantitative","scale":{"domain":[-20,30],"nice":false,"zero":false},"title":"Age Accel"},"y2":{"field":"q3"}}},
  {"data":{"name":"box"},"transform":[{"filter":"datum.p=='e'"}],"mark":{"type":"tick","size":63.7,"thickness":2.5,"color":"black","opacity":1},"encoding":{"y":{"field":"md","type":"quantitative","scale":{"domain":[-20,30],"nice":false,"zero":false},"title":"Age Accel"}}},
  {"data":{"name":"box"},"transform":[{"filter":"datum.p=='e'"}],"mark":{"type":"tick","size":35,"thickness":2.5,"color":"black","opacity":1},"encoding":{"y":{"field":"mn","type":"quantitative","scale":{"domain":[-20,30],"nice":false,"zero":false},"title":"Age Accel"}}},
  {"data":{"name":"box"},"transform":[{"filter":"datum.p=='e'"}],"mark":{"type":"tick","size":35,"thickness":2.5,"color":"black","opacity":1},"encoding":{"y":{"field":"mx","type":"quantitative","scale":{"domain":[-20,30],"nice":false,"zero":false},"title":"Age Accel"}}},
  {"data":{"name":"brk"},"transform":[{"filter":"datum.p=='e'"}],"mark":{"type":"rule","strokeWidth":1.8,"color":"black"},"encoding":{"x2":{"field":"g2"},"y":{"field":"hi","type":"quantitative","scale":{"domain":[-20,30],"nice":false,"zero":false},"title":"Age Accel"}}},
  {"data":{"name":"lab"},"transform":[{"filter":"datum.p=='e'"}],"mark":{"type":"text","dx":48.5,"font":"Liberation Sans","fontSize":13,"baseline":"alphabetic","align":"center","color":"black"},"encoding":{"y":{"field":"ly","type":"quantitative","scale":{"domain":[-20,30],"nice":false,"zero":false},"title":"Age Accel"},"text":{"field":"t"}}}
 ]},
 {"data":{"name":"pts"},"transform":[{"filter":"datum.p=='e'"}],"mark":{"type":"circle","size":45,"opacity":1},"encoding":{"x":{"field":"g","type":"nominal","scale":{"domain":["survived","died"],"paddingInner":0.343,"paddingOuter":0.338,"align":0.486},"axis":null},"xOffset":{"field":"o","type":"quantitative","scale":{"domain":[-4.78,4.78]}},"y":{"field":"v","type":"quantitative","scale":{"domain":[-20,30],"nice":false,"zero":false},"axis":null},"color":{"field":"g","type":"nominal","scale":{"domain":["survived","died"],"range":["#F7941D","#000000"]},"legend":null}}},
 {"data":{"name":"legs"},"transform":[{"filter":"datum.p=='e'"}],"mark":{"type":"rule","strokeWidth":1.8,"color":"black"},"encoding":{
   "x":{"field":"g","type":"nominal","scale":{"domain":["survived","died"],"paddingInner":0.343,"paddingOuter":0.338,"align":0.486},"axis":{"orient":"top","domain":false,"ticks":false,"labels":false,"minExtent":40.7,"maxExtent":40.7,"title":"PhenoAge","titleFont":"Liberation Serif","titleFontSize":16,"titleFontWeight":"normal","titleAngle":0,"titleAlign":"center","titleBaseline":"alphabetic","titleX":112.7,"titleY":-22.7}},
   "y":{"field":"lo","type":"quantitative","scale":{"domain":[-20,30],"nice":false,"zero":false},"axis":{"orient":"left","domain":false,"ticks":false,"labels":false,"minExtent":220,"maxExtent":220,"title":"e","titleFont":"Liberation Sans","titleFontSize":44,"titleFontWeight":"normal","titleAngle":0,"titleAlign":"left","titleBaseline":"alphabetic","titleX":-147,"titleY":-0.7}},
   "y2":{"field":"hi"}}}
]}
]},
{"spacing": 17, "vconcat": [
{"width":213,"height":252.3,"resolve":{"axis":{"x":"independent","y":"independent"},"scale":{"xOffset":"independent"}},"layer":[
 {"data":{"values":[{}]},"mark":{"type":"rule","strokeDash":[2,2.5],"strokeWidth":1.3,"color":"black"},"encoding":{"y":{"datum":0,"type":"quantitative","scale":{"domain":[-20,18.89],"nice":false,"zero":false},"axis":null}}},
 {"encoding":{"x":{"field":"g","type":"nominal","scale":{"domain":["survived","died"],"paddingInner":0.34,"paddingOuter":0.328,"align":0.476},"axis":{"orient":"bottom","labelExpr":"datum.value == 'survived' ? ['survived', 'end of FU'] : ['died', 'end of FU']"},"title":null}},
  "layer":[
  {"data":{"name":"box"},"transform":[{"filter":"datum.p=='c'"}],"mark":{"type":"rule","strokeWidth":2.5,"color":"black"},"encoding":{"y":{"field":"mn","type":"quantitative","scale":{"domain":[-20,18.89],"nice":false,"zero":false},"axis":{"orient":"left","values":[-20,-10,0,10],"labelExpr":"datum.value < 0 ? '-' + abs(datum.value) : '' + datum.value"},"title":"Age Accel"},"y2":{"field":"mx"}}},
  {"data":{"name":"box"},"transform":[{"filter":"datum.p=='c'"}],"mark":{"type":"bar","fill":"white","stroke":"black","strokeWidth":2.5},"encoding":{"y":{"field":"q1","type":"quantitative","scale":{"domain":[-20,18.89],"nice":false,"zero":false},"title":"Age Accel"},"y2":{"field":"q3"}}},
  {"data":{"name":"box"},"transform":[{"filter":"datum.p=='c'"}],"mark":{"type":"tick","size":60.6,"thickness":2.5,"color":"black","opacity":1},"encoding":{"y":{"field":"md","type":"quantitative","scale":{"domain":[-20,18.89],"nice":false,"zero":false},"title":"Age Accel"}}},
  {"data":{"name":"box"},"transform":[{"filter":"datum.p=='c'"}],"mark":{"type":"tick","size":33,"thickness":2.5,"color":"black","opacity":1},"encoding":{"y":{"field":"mn","type":"quantitative","scale":{"domain":[-20,18.89],"nice":false,"zero":false},"title":"Age Accel"}}},
  {"data":{"name":"box"},"transform":[{"filter":"datum.p=='c'"}],"mark":{"type":"tick","size":33,"thickness":2.5,"color":"black","opacity":1},"encoding":{"y":{"field":"mx","type":"quantitative","scale":{"domain":[-20,18.89],"nice":false,"zero":false},"title":"Age Accel"}}},
  {"data":{"name":"brk"},"transform":[{"filter":"datum.p=='c'"}],"mark":{"type":"rule","strokeWidth":1.8,"color":"black"},"encoding":{"x2":{"field":"g2"},"y":{"field":"hi","type":"quantitative","scale":{"domain":[-20,18.89],"nice":false,"zero":false},"title":"Age Accel"}}},
  {"data":{"name":"lab"},"transform":[{"filter":"datum.p=='c'"}],"mark":{"type":"text","dx":46,"font":"Liberation Sans","fontSize":13,"baseline":"alphabetic","align":"center","color":"black"},"encoding":{"y":{"field":"ly","type":"quantitative","scale":{"domain":[-20,18.89],"nice":false,"zero":false},"title":"Age Accel"},"text":{"field":"t"}}}
 ]},
 {"data":{"name":"pts"},"transform":[{"filter":"datum.p=='c'"}],"mark":{"type":"circle","size":45,"opacity":1},"encoding":{"x":{"field":"g","type":"nominal","scale":{"domain":["survived","died"],"paddingInner":0.34,"paddingOuter":0.328,"align":0.476},"axis":null},"xOffset":{"field":"o","type":"quantitative","scale":{"domain":[-4.54,4.54]}},"y":{"field":"v","type":"quantitative","scale":{"domain":[-20,18.89],"nice":false,"zero":false},"axis":null},"color":{"field":"g","type":"nominal","scale":{"domain":["survived","died"],"range":["#F7941D","#000000"]},"legend":null}}},
 {"data":{"name":"legs"},"transform":[{"filter":"datum.p=='c'"}],"mark":{"type":"rule","strokeWidth":1.8,"color":"black"},"encoding":{
   "x":{"field":"g","type":"nominal","scale":{"domain":["survived","died"],"paddingInner":0.34,"paddingOuter":0.328,"align":0.476},"axis":{"orient":"top","domain":false,"ticks":false,"labels":false,"minExtent":4,"maxExtent":4,"title":null}},
   "y":{"field":"lo","type":"quantitative","scale":{"domain":[-20,18.89],"nice":false,"zero":false},"axis":{"orient":"left","domain":false,"ticks":false,"labels":false,"minExtent":188,"maxExtent":188,"title":null}},
   "y2":{"field":"hi"}}}
]},
{"width":235,"height":279,"resolve":{"axis":{"x":"independent","y":"independent"},"scale":{"xOffset":"independent"}},"layer":[
 {"data":{"values":[{}]},"mark":{"type":"rule","strokeDash":[2,2.5],"strokeWidth":1.3,"color":"black"},"encoding":{"y":{"datum":0,"type":"quantitative","scale":{"domain":[-10,15],"nice":false,"zero":false},"axis":null}}},
 {"encoding":{"x":{"field":"g","type":"nominal","scale":{"domain":["survived","died"],"paddingInner":0.352,"paddingOuter":0.359,"align":0.488},"axis":{"orient":"bottom","labelExpr":"datum.value == 'survived' ? ['survived', 'end of FU'] : ['died', 'end of FU']"},"title":null}},
  "layer":[
  {"data":{"name":"box"},"transform":[{"filter":"datum.p=='f'"}],"mark":{"type":"rule","strokeWidth":2.5,"color":"black"},"encoding":{"y":{"field":"mn","type":"quantitative","scale":{"domain":[-10,15],"nice":false,"zero":false},"axis":{"orient":"left","values":[-10,-5,0,5,10,15],"labelExpr":"datum.value < 0 ? '-' + abs(datum.value) : '' + datum.value"},"title":"Age Accel"},"y2":{"field":"mx"}}},
  {"data":{"name":"box"},"transform":[{"filter":"datum.p=='f'"}],"mark":{"type":"bar","fill":"white","stroke":"black","strokeWidth":2.5},"encoding":{"y":{"field":"q1","type":"quantitative","scale":{"domain":[-10,15],"nice":false,"zero":false},"title":"Age Accel"},"y2":{"field":"q3"}}},
  {"data":{"name":"box"},"transform":[{"filter":"datum.p=='f'"}],"mark":{"type":"tick","size":64.3,"thickness":2.5,"color":"black","opacity":1},"encoding":{"y":{"field":"md","type":"quantitative","scale":{"domain":[-10,15],"nice":false,"zero":false},"title":"Age Accel"}}},
  {"data":{"name":"box"},"transform":[{"filter":"datum.p=='f'"}],"mark":{"type":"tick","size":35,"thickness":2.5,"color":"black","opacity":1},"encoding":{"y":{"field":"mn","type":"quantitative","scale":{"domain":[-10,15],"nice":false,"zero":false},"title":"Age Accel"}}},
  {"data":{"name":"box"},"transform":[{"filter":"datum.p=='f'"}],"mark":{"type":"tick","size":35,"thickness":2.5,"color":"black","opacity":1},"encoding":{"y":{"field":"mx","type":"quantitative","scale":{"domain":[-10,15],"nice":false,"zero":false},"title":"Age Accel"}}},
  {"data":{"name":"brk"},"transform":[{"filter":"datum.p=='f'"}],"mark":{"type":"rule","strokeWidth":1.8,"color":"black"},"encoding":{"x2":{"field":"g2"},"y":{"field":"hi","type":"quantitative","scale":{"domain":[-10,15],"nice":false,"zero":false},"title":"Age Accel"}}},
  {"data":{"name":"lab"},"transform":[{"filter":"datum.p=='f'"}],"mark":{"type":"text","dx":49.7,"font":"Liberation Sans","fontSize":13.5,"baseline":"alphabetic","align":"center","color":"black"},"encoding":{"y":{"field":"ly","type":"quantitative","scale":{"domain":[-10,15],"nice":false,"zero":false},"title":"Age Accel"},"text":{"field":"t"}}}
 ]},
 {"data":{"name":"pts"},"transform":[{"filter":"datum.p=='f'"}],"mark":{"type":"circle","size":45,"opacity":1},"encoding":{"x":{"field":"g","type":"nominal","scale":{"domain":["survived","died"],"paddingInner":0.352,"paddingOuter":0.359,"align":0.488},"axis":null},"xOffset":{"field":"o","type":"quantitative","scale":{"domain":[-4.82,4.82]}},"y":{"field":"v","type":"quantitative","scale":{"domain":[-10,15],"nice":false,"zero":false},"axis":null},"color":{"field":"g","type":"nominal","scale":{"domain":["survived","died"],"range":["#F7941D","#000000"]},"legend":null}}},
 {"data":{"name":"legs"},"transform":[{"filter":"datum.p=='f'"}],"mark":{"type":"rule","strokeWidth":1.8,"color":"black"},"encoding":{
   "x":{"field":"g","type":"nominal","scale":{"domain":["survived","died"],"paddingInner":0.352,"paddingOuter":0.359,"align":0.488},"axis":{"orient":"top","domain":false,"ticks":false,"labels":false,"minExtent":37.7,"maxExtent":37.7,"title":"GrimAge Clock","titleFont":"Liberation Serif","titleFontSize":16,"titleFontWeight":"normal","titleAngle":0,"titleAlign":"center","titleBaseline":"alphabetic","titleX":117.5,"titleY":-20.7}},
   "y":{"field":"lo","type":"quantitative","scale":{"domain":[-10,15],"nice":false,"zero":false},"axis":{"orient":"left","domain":false,"ticks":false,"labels":false,"minExtent":188,"maxExtent":188,"title":"f","titleFont":"Liberation Sans","titleFontSize":44,"titleFontWeight":"normal","titleAngle":0,"titleAlign":"left","titleBaseline":"alphabetic","titleX":-147,"titleY":3.3}},
   "y2":{"field":"hi"}}}
]}
]}
],
"config": {
 "view": {"stroke": null},
 "axis": {"grid": false, "domainColor": "black", "domainWidth": 2.5, "domainCap": "square", "tickColor": "black", "tickWidth": 2.5, "labelColor": "black", "labelFont": "Liberation Serif", "labelFontWeight": "bold", "titleColor": "black", "titleFont": "Liberation Serif", "titleFontWeight": "normal"},
 "axisBottom": {"labelAngle": 0, "labelFontSize": 13, "labelFont": "Liberation Serif", "labelFontWeight": "bold", "tickSize": 6, "labelPadding": 5, "labelLineHeight": 15},
 "axisLeft": {"labelFontSize": 15, "labelFont": "Liberation Serif", "labelFontWeight": "bold", "tickSize": 6, "labelPadding": 2, "titleFontSize": 12.5, "titlePadding": 4, "minExtent": 30, "maxExtent": 30}
}
}
